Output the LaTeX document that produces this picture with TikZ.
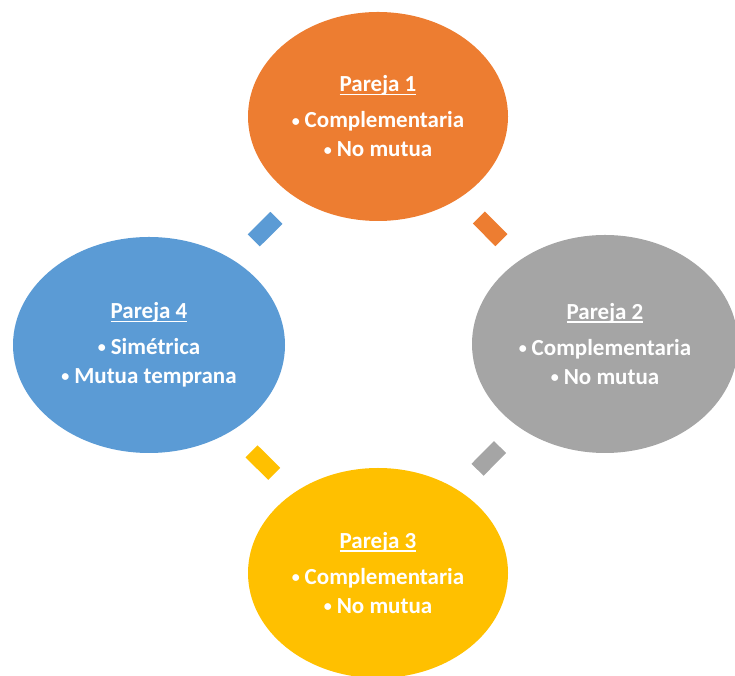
\documentclass[tikz,border=0pt]{standalone}
\usepackage{fontspec}
\setmainfont{Carlito}
\usetikzlibrary{shapes.geometric}
\definecolor{pOrange}{HTML}{ED7D31}
\definecolor{pGray}{HTML}{A5A5A5}
\definecolor{pYellow}{HTML}{FFC000}
\definecolor{pBlue}{HTML}{5B9BD5}
\newcommand{\ulhead}[1]{\setbox0\hbox{#1}\rlap{\rule[-3.2pt]{\wd0}{1.3pt}}\box0}
\newcommand{\pbul}{{\fontsize{16}{16}\selectfont\raisebox{1.8pt}{•}}\hspace{5pt}}
\tikzset{pareja/.style={ellipse, inner sep=0pt, text=white, align=center,
    font=\bfseries\fontsize{23}{29}\selectfont}}
\tikzset{link/.style={rectangle, inner sep=0pt, minimum width=32pt, minimum height=17pt}}

\begin{document}
\begin{tikzpicture}[x=1pt,y=1pt]
    \useasboundingbox (0,0) rectangle (735,676);
    \node[pareja, fill=pOrange, minimum width=260pt, minimum height=209pt] (p1) at (378,559.5)
        {\ulhead{Pareja 1}\\[7pt] \pbul Complementaria\\ \pbul No mutua};
    \node[pareja, fill=pGray, minimum width=266pt, minimum height=218pt] (p2) at (605,332)
        {\ulhead{Pareja 2}\\[7pt] \pbul Complementaria\\ \pbul No mutua};
    \node[pareja, fill=pYellow, minimum width=260pt, minimum height=210pt] (p3) at (378,103)
        {\ulhead{Pareja 3}\\[7pt] \pbul Complementaria\\ \pbul No mutua};
    \node[pareja, fill=pBlue, minimum width=272pt, minimum height=216pt] (p4) at (149,331)
        {\ulhead{Pareja 4}\\[7pt] \pbul Simétrica\\ \pbul Mutua temprana};
    \path (p4) -- (p1) node[midway, sloped, link, fill=pBlue] (l41) {};
    \path (p1) -- (p2) node[midway, sloped, link, fill=pOrange] (l12) {};
    \path (p4) -- (p3) node[midway, sloped, link, fill=pYellow, yshift=-3pt] (l43) {};
    \path (p3) -- (p2) node[midway, sloped, link, fill=pGray, yshift=2pt] (l32) {};
\end{tikzpicture}
\end{document}
